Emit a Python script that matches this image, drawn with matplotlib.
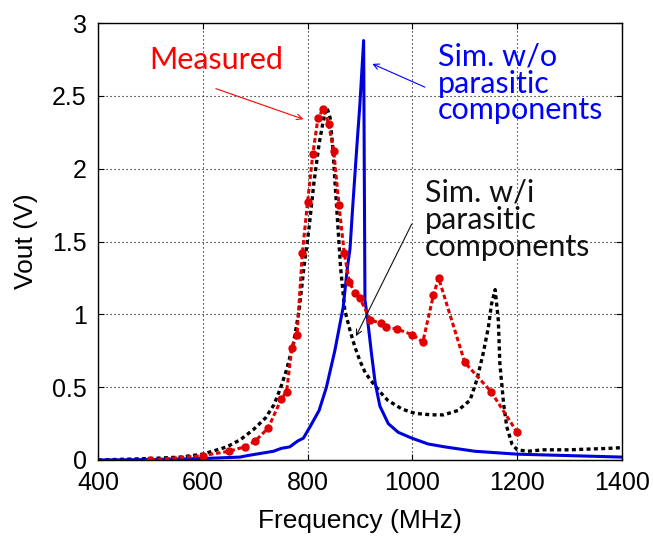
import matplotlib
matplotlib.use("Agg")
import matplotlib.pyplot as plt

# measured data (red dots)
meas_f = [500, 600, 650, 680, 700, 725, 750, 760, 770, 780, 790, 800, 810, 820,
          830, 840, 850, 860, 870, 880, 890, 900, 920, 940, 950, 970, 1000, 1020,
          1040, 1050, 1100, 1150, 1200]
meas_v = [0.00, 0.03, 0.06, 0.09, 0.13, 0.22, 0.42, 0.47, 0.77, 0.86, 1.42, 1.77, 2.10, 2.35,
          2.41, 2.31, 2.12, 1.75, 1.42, 1.22, 1.15, 1.11, 0.96, 0.94, 0.91, 0.90, 0.86, 0.81,
          1.13, 1.25, 0.67, 0.47, 0.19]

# simulation with parasitic components (black dotted)
wi_f = [400, 450, 500, 557, 600, 646, 672, 697, 720, 736, 749, 760, 773, 784, 793, 803,
        812, 822, 832, 837, 843, 848, 853, 858, 863, 871, 881, 890, 900, 910, 920, 935,
        953, 980, 1005, 1037, 1060, 1087, 1110, 1123, 1135, 1145, 1151, 1158, 1164, 1167,
        1174, 1180, 1190, 1200, 1220, 1250, 1300, 1375, 1400]
wi_v = [0.00, 0.005, 0.01, 0.02, 0.04, 0.09, 0.14, 0.21, 0.29, 0.38, 0.50, 0.62, 0.80, 1.03,
        1.32, 1.60, 1.90, 2.17, 2.37, 2.42, 2.35, 2.15, 1.87, 1.60, 1.32, 1.03, 0.89, 0.78,
        0.68, 0.60, 0.55, 0.48, 0.41, 0.35, 0.32, 0.31, 0.31, 0.34, 0.41, 0.55, 0.73, 0.91,
        1.07, 1.17, 0.96, 0.66, 0.39, 0.23, 0.11, 0.07, 0.06, 0.07, 0.07, 0.08, 0.085]

# simulation without parasitic components (blue solid)
wo_f = [400, 500, 600, 671, 685, 735, 750, 766, 781, 792, 805, 822, 836, 852, 868, 876,
        881, 886, 894, 900, 907, 909.5, 914.7, 922, 929, 938, 954, 973, 999, 1030, 1062,
        1119, 1200, 1300, 1400]
wo_v = [0.0, 0.003, 0.01, 0.02, 0.03, 0.06, 0.08, 0.09, 0.13, 0.15, 0.23, 0.34, 0.50, 0.75,
        1.05, 1.32, 1.45, 1.73, 2.15, 2.45, 2.88, 1.10, 0.96, 0.73, 0.53, 0.37, 0.25, 0.19,
        0.15, 0.11, 0.09, 0.06, 0.04, 0.03, 0.02]

fig = plt.figure(figsize=(6.53, 5.37), dpi=100)
ax = fig.add_axes([0.150, 0.1434, 0.8025, 0.8136])

ax.plot(wi_f, wi_v, color='black', lw=2.4, linestyle=(0, (1.2, 1.0)))
ax.plot(wo_f, wo_v, color='#0000dd', lw=2.2)
ax.plot(meas_f, meas_v, color='#e00000', lw=2.2, linestyle=(0, (1.5, 0.9)),
        marker='o', markersize=5)

ax.set_xlim(400, 1400)
ax.set_ylim(0, 3)
ax.set_xticks([400, 600, 800, 1000, 1200, 1400])
ax.set_yticks([0, 0.5, 1, 1.5, 2, 2.5, 3])
ax.set_yticklabels(['0', '0.5', '1', '1.5', '2', '2.5', '3'])
ax.grid(True, color='black', linestyle=(0, (1, 2.6)), linewidth=0.8)
ax.tick_params(direction='in', top=True, right=True, length=4.5, width=0.8,
               labelsize=18, pad=8)
for lab in ax.get_xticklabels() + ax.get_yticklabels():
    lab.set_family('Liberation Sans')
for s in ax.spines.values():
    s.set_linewidth(1.0)

ax.set_xlabel('Frequency (MHz)', fontsize=19, family='Liberation Sans', labelpad=10)
ax.set_ylabel('Vout (V)', fontsize=19, family='Liberation Sans', labelpad=10)

# labels
ax.text(625, 2.745, 'Measured', color='#ff0000', fontsize=22, family='Lato',
        ha='center', va='center')
ax.text(1048, 2.585, 'Sim. w/o\nparasitic\ncomponents', color='#0000ff', fontsize=22,
        family='Lato', ha='left', va='center', linespacing=0.95)
ax.text(1024, 1.65, 'Sim. w/i\nparasitic\ncomponents', color='#111111', fontsize=22,
        family='Lato', ha='left', va='center', linespacing=0.95)

# arrows
arrow = dict(arrowstyle='->', lw=0.8, shrinkA=0, shrinkB=0)
ax.annotate('', xy=(792, 2.34), xytext=(625, 2.55),
            arrowprops=dict(arrow, color='#ff0000'))
ax.annotate('', xy=(923.5, 2.72), xytext=(1024, 2.56),
            arrowprops=dict(arrow, color='#0000ff'))
ax.annotate('', xy=(892.4, 0.85), xytext=(998.7, 1.62),
            arrowprops=dict(arrow, color='#111111'))

fig.savefig('out.png', dpi=100)
